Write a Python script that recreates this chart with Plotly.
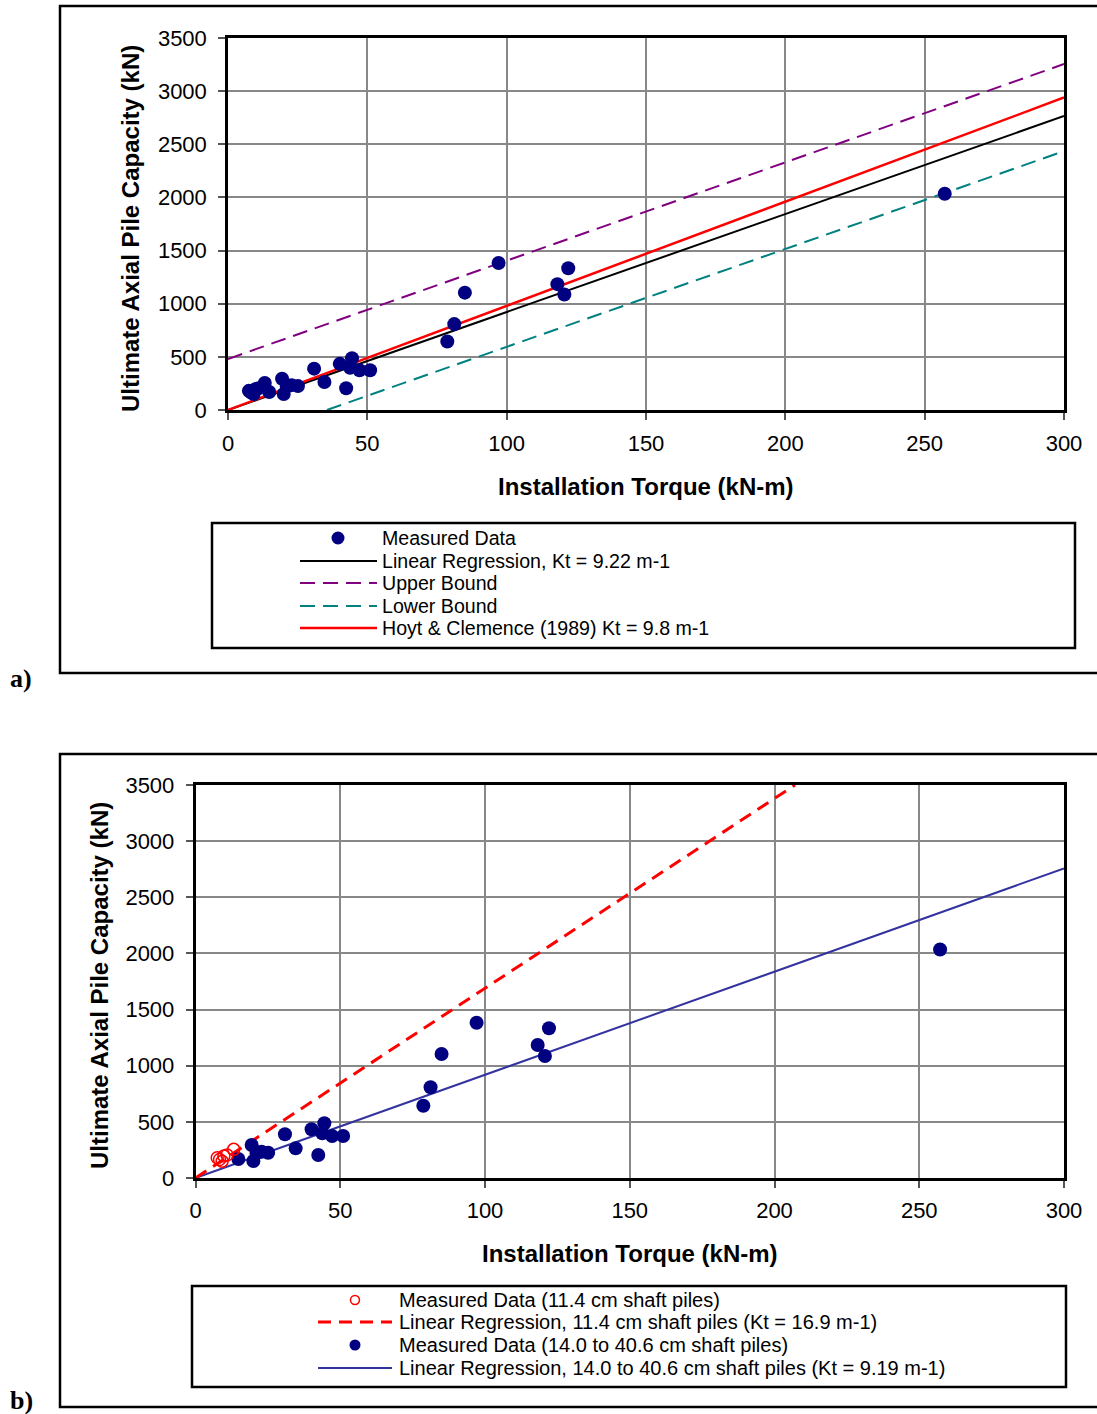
import plotly.graph_objects as go

W, H = 1097, 1414

# ---------------- data ----------------
torque_small = [7.5, 8.3, 9.2, 9.8, 10.9, 13.2]
capacity_small = [180, 165, 150, 195, 205, 255]

torque_large = [14.8, 19.4, 20.0, 21.1, 22.8, 25.1, 30.9, 34.6, 40.1, 42.4, 43.8,
                44.5, 47.2, 51.0, 78.7, 81.2, 85.0, 97.1, 118.2, 120.7, 122.1, 257.2]
capacity_large = [169, 294, 151, 220, 234, 225, 389, 264, 434, 205, 398,
                  487, 374, 374, 644, 808, 1104, 1383, 1184, 1086, 1333, 2035]

reg_x, reg_y = [0, 300], [0, 2766]            # Kt = 9.22
hoyt_x, hoyt_y = [0, 300], [0, 2940]          # Kt = 9.8
upper_x, upper_y = [0, 300], [480, 3255]
lower_x, lower_y = [35.5, 300], [0, 2436]
small_reg_x, small_reg_y = [0, 207.1], [0, 3500]   # Kt = 16.9
large_reg_x, large_reg_y = [0, 300], [0, 2757]     # Kt = 9.19

x_ticks = [0, 50, 100, 150, 200, 250, 300]
y_ticks = [0, 500, 1000, 1500, 2000, 2500, 3000, 3500]

x_title = "Installation Torque (kN-m)"
y_title = "Ultimate Axial Pile Capacity (kN)"

legend_a = ["Measured Data", "Linear Regression, Kt = 9.22 m-1", "Upper Bound",
            "Lower Bound", "Hoyt & Clemence (1989) Kt = 9.8 m-1"]
legend_b = ["Measured Data (11.4 cm shaft piles)",
            "Linear Regression, 11.4 cm shaft piles (Kt = 16.9 m-1)",
            "Measured Data (14.0 to 40.6 cm shaft piles)",
            "Linear Regression, 14.0 to 40.6 cm shaft piles (Kt = 9.19 m-1)"]

# ---------------- style ----------------
FONT = "Liberation Sans, Arial, sans-serif"
NAVY = "#000080"
PURPLE = "#800080"
TEAL = "#008080"
RED = "#FF0000"
BLUE = "#3333A0"
GRID = "#888888"


def X(px):
    return px / W


def Y(py):
    return 1 - py / H


fig = go.Figure()

all_torque = torque_small + torque_large
all_capacity = capacity_small + capacity_large

# ---- panel a ----
fig.add_trace(go.Scatter(x=upper_x, y=upper_y, mode="lines", xaxis="x", yaxis="y",
                         line=dict(color=PURPLE, width=2, dash="15px,8px"), name=legend_a[2]))
fig.add_trace(go.Scatter(x=lower_x, y=lower_y, mode="lines", xaxis="x", yaxis="y",
                         line=dict(color=TEAL, width=2, dash="15px,8px"), name=legend_a[3]))
fig.add_trace(go.Scatter(x=reg_x, y=reg_y, mode="lines", xaxis="x", yaxis="y",
                         line=dict(color="black", width=2), name=legend_a[1]))
fig.add_trace(go.Scatter(x=hoyt_x, y=hoyt_y, mode="lines", xaxis="x", yaxis="y",
                         line=dict(color=RED, width=2.5), name=legend_a[4]))
fig.add_trace(go.Scatter(x=all_torque, y=all_capacity, mode="markers", xaxis="x", yaxis="y",
                         marker=dict(color=NAVY, size=14), cliponaxis=False, name=legend_a[0]))

# ---- panel b ----
fig.add_trace(go.Scatter(x=large_reg_x, y=large_reg_y, mode="lines", xaxis="x2", yaxis="y2",
                         line=dict(color=BLUE, width=2), name=legend_b[3]))
fig.add_trace(go.Scatter(x=small_reg_x, y=small_reg_y, mode="lines", xaxis="x2", yaxis="y2",
                         line=dict(color=RED, width=3, dash="13px,8px"), name=legend_b[1]))
fig.add_trace(go.Scatter(x=torque_large, y=capacity_large, mode="markers", xaxis="x2", yaxis="y2",
                         marker=dict(color=NAVY, size=14), cliponaxis=False, name=legend_b[2]))
fig.add_trace(go.Scatter(x=torque_small, y=capacity_small, mode="markers", xaxis="x2", yaxis="y2",
                         marker=dict(color=RED, size=12, symbol="circle-open",
                                     line=dict(color=RED, width=1.5)),
                         cliponaxis=False, name=legend_b[0]))

axis_common = dict(
    showgrid=True, gridcolor=GRID, gridwidth=2,
    showline=True, linecolor="black", linewidth=2.5, mirror=True,
    ticks="outside", ticklen=7, tickwidth=1.5, tickcolor="#555555",
    tickfont=dict(family=FONT, size=22, color="black"),
    zeroline=False, automargin=False, fixedrange=True,
)

fig.update_layout(
    width=W, height=H,
    margin=dict(l=0, r=0, t=0, b=0),
    paper_bgcolor="white", plot_bgcolor="white",
    showlegend=False,
    font=dict(family=FONT, color="black"),
    xaxis=dict(axis_common, domain=[X(228), X(1064)], range=[0, 300], tickvals=x_ticks,
               anchor="y", ticklabelstandoff=5),
    yaxis=dict(axis_common, domain=[Y(410), Y(38)], range=[0, 3500], tickvals=y_ticks,
               anchor="x", ticklabelstandoff=7),
    xaxis2=dict(axis_common, domain=[X(195.5), X(1064)], range=[0, 300], tickvals=x_ticks,
                anchor="y2", ticklabelstandoff=4),
    yaxis2=dict(axis_common, domain=[Y(1178), Y(785)], range=[0, 3500], tickvals=y_ticks,
                anchor="x2", ticklabelstandoff=7),
)

shapes = []
annotations = []

# outer frames
shapes.append(dict(type="rect", xref="paper", yref="paper", x0=X(60), x1=X(1110),
                   y0=Y(673), y1=Y(6), line=dict(color="black", width=2.5)))
shapes.append(dict(type="rect", xref="paper", yref="paper", x0=X(60), x1=X(1110),
                   y0=Y(1407), y1=Y(754), line=dict(color="black", width=2.5)))

# panel labels
annotations.append(dict(text="<b>a)</b>", x=X(8), y=Y(678), xref="paper", yref="paper",
                        xanchor="left", yanchor="middle", showarrow=False,
                        font=dict(family="Liberation Serif, Times New Roman, serif", size=26)))
annotations.append(dict(text="<b>b)</b>", x=X(8), y=Y(1400), xref="paper", yref="paper",
                        xanchor="left", yanchor="middle", showarrow=False,
                        font=dict(family="Liberation Serif, Times New Roman, serif", size=26)))

# axis titles
for cx, cy in [(646, 487), (630, 1253)]:
    annotations.append(dict(text="<b>" + x_title + "</b>", x=X(cx), y=Y(cy), xref="paper",
                            yref="paper", xanchor="center", yanchor="middle", showarrow=False,
                            font=dict(family=FONT, size=24)))
for cx, cy in [(131, 229), (99, 986)]:
    annotations.append(dict(text="<b>" + y_title + "</b>", x=X(cx), y=Y(cy), xref="paper",
                            yref="paper", xanchor="center", yanchor="middle", showarrow=False,
                            textangle=-90, font=dict(family=FONT, size=24)))

# ---- legend a (box + samples + labels) ----
shapes.append(dict(type="rect", xref="paper", yref="paper", x0=X(212), x1=X(1075),
                   y0=Y(648), y1=Y(523), line=dict(color="black", width=2.5)))
rows_a = [538, 561, 583, 606, 628]
styles_a = [None,
            dict(color="black", width=2),
            dict(color=PURPLE, width=2, dash="15px,8px"),
            dict(color=TEAL, width=2, dash="15px,8px"),
            dict(color=RED, width=2.5)]
for text, ry, st in zip(legend_a, rows_a, styles_a):
    if st is None:
        shapes.append(dict(type="circle", xref="paper", yref="paper", xsizemode="pixel",
                           ysizemode="pixel", xanchor=X(338), yanchor=Y(ry),
                           x0=-6.5, x1=6.5, y0=-6.5, y1=6.5,
                           fillcolor=NAVY, line=dict(color=NAVY, width=0)))
    else:
        shapes.append(dict(type="line", xref="paper", yref="paper", x0=X(300), x1=X(377),
                           y0=Y(ry), y1=Y(ry), line=st))
    annotations.append(dict(text=text, x=X(380), y=Y(ry), xref="paper", yref="paper",
                            xanchor="left", yanchor="middle", showarrow=False,
                            font=dict(family=FONT, size=19.6)))

# ---- legend b ----
shapes.append(dict(type="rect", xref="paper", yref="paper", x0=X(192), x1=X(1066),
                   y0=Y(1387), y1=Y(1286), line=dict(color="black", width=2.5)))
rows_b = [1300, 1322, 1345, 1368]
for i, (text, ry) in enumerate(zip(legend_b, rows_b)):
    if i == 0:
        shapes.append(dict(type="circle", xref="paper", yref="paper", xsizemode="pixel",
                           ysizemode="pixel", xanchor=X(355), yanchor=Y(ry),
                           x0=-4.5, x1=4.5, y0=-4.5, y1=4.5,
                           line=dict(color=RED, width=1.5)))
    elif i == 1:
        shapes.append(dict(type="line", xref="paper", yref="paper", x0=X(318), x1=X(392),
                           y0=Y(ry), y1=Y(ry), line=dict(color=RED, width=3, dash="13px,8px")))
    elif i == 2:
        shapes.append(dict(type="circle", xref="paper", yref="paper", xsizemode="pixel",
                           ysizemode="pixel", xanchor=X(355), yanchor=Y(ry),
                           x0=-5.5, x1=5.5, y0=-5.5, y1=5.5,
                           fillcolor=NAVY, line=dict(color=NAVY, width=0)))
    else:
        shapes.append(dict(type="line", xref="paper", yref="paper", x0=X(318), x1=X(392),
                           y0=Y(ry), y1=Y(ry), line=dict(color=BLUE, width=2)))
    annotations.append(dict(text=text, x=X(397), y=Y(ry), xref="paper", yref="paper",
                            xanchor="left", yanchor="middle", showarrow=False,
                            font=dict(family=FONT, size=20)))

fig.update_layout(shapes=shapes, annotations=annotations)

fig.write_html("out.html", config={"displayModeBar": False},
               post_script="document.body.style.margin='0';")
